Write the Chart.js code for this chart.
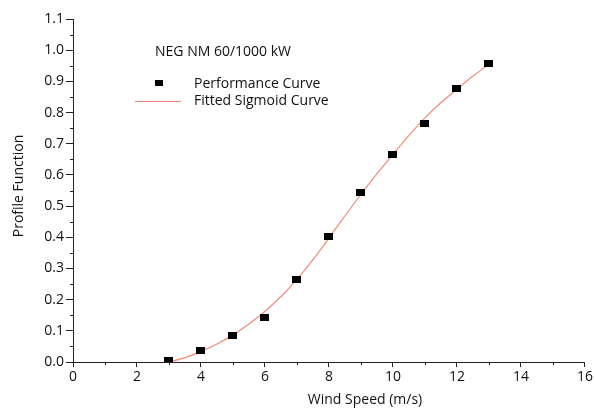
<!DOCTYPE html>
<html lang="en">
  <head>
    <meta charset="UTF-8" />
    <title>Profile Function</title>
    <script src="https://cdn.jsdelivr.net/npm/chart.js"></script>
    <style>
      html,
      body {
        margin: 0;
        padding: 0;
        background: #fff;
      }
      .chart-box {
        position: relative;
        width: 595px;
        height: 410px;
      }
    </style>
  </head>
  <body>
    <div class="chart-box">
      <canvas id="profileChart" width="595" height="410"></canvas>
    </div>

    <script>
      // Data
      const windSpeed = [3, 4, 5, 6, 7, 8, 9, 10, 11, 12, 13];
      const performance = [0.005, 0.036, 0.085, 0.143, 0.265, 0.401, 0.542, 0.666, 0.764, 0.877, 0.958];

      const fitSpeed = [3, 3.5, 4, 4.5, 5, 5.5, 6, 6.5, 7, 7.5, 8, 8.5, 9, 9.5, 10, 10.5, 11, 11.5, 12, 12.5, 13];
      const fitValues = [0.0, 0.014, 0.034, 0.058, 0.087, 0.122, 0.163, 0.21, 0.265, 0.328, 0.398, 0.469, 0.538, 0.604, 0.666, 0.727, 0.783, 0.832, 0.875, 0.917, 0.955];

      const xTicks = [0, 2, 4, 6, 8, 10, 12, 14, 16];
      const xMinor = [1, 3, 5, 7, 9, 11, 13, 15];
      const yTicks = [0, 0.1, 0.2, 0.3, 0.4, 0.5, 0.6, 0.7, 0.8, 0.9, 1.0, 1.1];
      const yMinor = [0.05, 0.15, 0.25, 0.35, 0.45, 0.55, 0.65, 0.75, 0.85, 0.95, 1.05];

      const chartLabel = "NEG NM 60/1000 kW";
      const xTitle = "Wind Speed (m/s)";
      const yTitle = "Profile Function";

      const FONT = "'Open Sans', sans-serif";
      const AXIS = "#222";
      const TEXT = "#111";
      const CURVE = "#f28a76";

      // black rectangular marker like the original
      const makeMarker = (w, h) => {
        const m = document.createElement("canvas");
        m.width = w;
        m.height = h;
        const c = m.getContext("2d");
        c.fillStyle = "#000";
        c.fillRect(0, 0, w, h);
        return m;
      };
      const marker = makeMarker(9, 7);
      const legendMarker = makeMarker(8, 6);

      const minorTicks = {
        id: "minorTicks",
        afterDraw(chart) {
          const { ctx, scales } = chart;
          const x = scales.x;
          const y = scales.y;
          ctx.save();
          ctx.strokeStyle = AXIS;
          ctx.lineWidth = 1;
          ctx.beginPath();
          xMinor.forEach((v) => {
            const px = Math.round(x.getPixelForValue(v)) + 0.5;
            ctx.moveTo(px, y.bottom);
            ctx.lineTo(px, y.bottom + 3);
          });
          yMinor.forEach((v) => {
            const py = Math.round(y.getPixelForValue(v)) + 0.5;
            ctx.moveTo(x.left - 3, py);
            ctx.lineTo(x.left, py);
          });
          ctx.stroke();
          ctx.restore();
        },
      };

      const labels = {
        id: "labels",
        afterDraw(chart) {
          const { ctx } = chart;
          ctx.save();
          ctx.fillStyle = TEXT;
          ctx.font = "14px " + FONT;
          ctx.textBaseline = "middle";

          // axis titles
          ctx.textAlign = "center";
          ctx.fillText(xTitle, 365, 400);
          ctx.save();
          ctx.translate(19, 186);
          ctx.rotate(-Math.PI / 2);
          ctx.fillText(yTitle, 0, 0);
          ctx.restore();

          // legend block
          ctx.textAlign = "left";
          ctx.fillText(chartLabel, 155, 52);
          ctx.drawImage(legendMarker, 155, 80);
          ctx.fillText(chart.data.datasets[0].label, 194, 84);
          ctx.strokeStyle = CURVE;
          ctx.lineWidth = 1;
          ctx.beginPath();
          ctx.moveTo(135, 101.5);
          ctx.lineTo(181, 101.5);
          ctx.stroke();
          ctx.fillText(chart.data.datasets[1].label, 194, 101);
          ctx.restore();
        },
      };

      new Chart(document.getElementById("profileChart"), {
        type: "scatter",
        data: {
          datasets: [
            {
              label: "Performance Curve",
              data: windSpeed.map((x, i) => ({ x, y: performance[i] })),
              pointStyle: marker,
              pointRadius: 5,
              order: 0,
            },
            {
              label: "Fitted Sigmoid Curve",
              type: "line",
              data: fitSpeed.map((x, i) => ({ x, y: fitValues[i] })),
              borderColor: CURVE,
              borderWidth: 1.2,
              pointRadius: 0,
              cubicInterpolationMode: "monotone",
              fill: false,
              order: 1,
            },
          ],
        },
        options: {
          responsive: false,
          animation: false,
          layout: { padding: { top: 19, right: 9, left: 0, bottom: 0 } },
          plugins: {
            legend: { display: false },
            tooltip: { enabled: false },
          },
          scales: {
            x: {
              type: "linear",
              min: 0,
              max: 16,
              afterBuildTicks: (s) => {
                s.ticks = xTicks.map((value) => ({ value }));
              },
              afterFit: (s) => {
                s.height = 48;
              },
              grid: {
                drawOnChartArea: false,
                drawTicks: true,
                tickLength: 5,
                color: AXIS,
              },
              border: { display: true, color: AXIS, width: 1 },
              ticks: {
                padding: 2,
                color: TEXT,
                font: { family: FONT, size: 14 },
                maxRotation: 0,
                callback: (v) => String(v),
              },
            },
            y: {
              type: "linear",
              min: 0,
              max: 1.1,
              afterBuildTicks: (s) => {
                s.ticks = yTicks.map((value) => ({ value }));
              },
              afterFit: (s) => {
                s.width = 73;
              },
              grid: {
                drawOnChartArea: false,
                drawTicks: true,
                tickLength: 7,
                color: AXIS,
              },
              border: { display: true, color: AXIS, width: 1 },
              ticks: {
                padding: 2,
                color: TEXT,
                font: { family: FONT, size: 14 },
                callback: (v) => Number(v).toFixed(1),
              },
            },
          },
        },
        plugins: [minorTicks, labels],
      });
    </script>
  </body>
</html>
